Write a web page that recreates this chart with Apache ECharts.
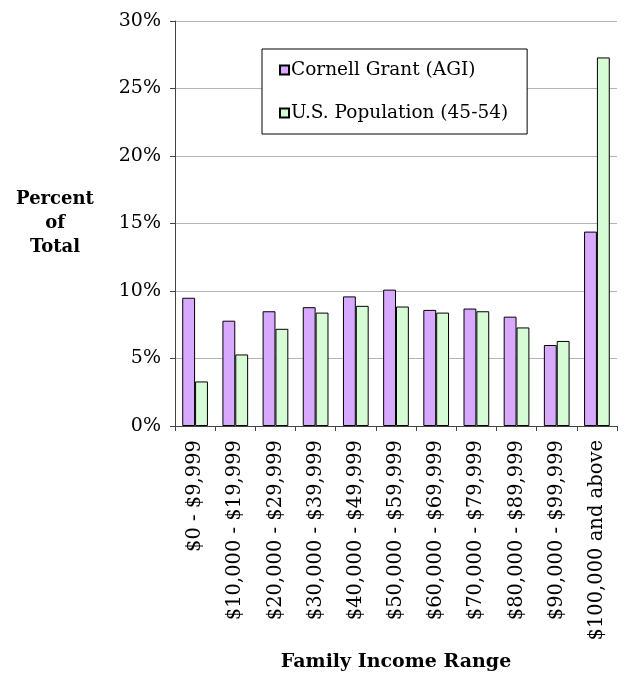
<!DOCTYPE html>
<html>
<head>
<meta charset="utf-8">
<script src="https://cdn.jsdelivr.net/npm/echarts@6/dist/echarts.min.js"></script>
<style>
  html, body { margin: 0; padding: 0; background: #fff; }
  #chart { width: 634px; height: 677px; }
</style>
</head>
<body>
<div id="chart"></div>
<script>
// Income brackets along the x axis
const categories = [
  '$0 - $9,999', '$10,000 - $19,999', '$20,000 - $29,999', '$30,000 - $39,999',
  '$40,000 - $49,999', '$50,000 - $59,999', '$60,000 - $69,999', '$70,000 - $79,999',
  '$80,000 - $89,999', '$90,000 - $99,999', '$100,000 and above'
];
// Share of total (percent) per bracket
const cornellGrant = [9.5, 7.8, 8.5, 8.8, 9.6, 10.1, 8.6, 8.7, 8.1, 6.0, 14.4];
const usPopulation = [3.3, 5.3, 7.2, 8.4, 8.9, 8.85, 8.4, 8.5, 7.3, 6.3, 27.3];
const seriesNames = ['Cornell Grant (AGI)', 'U.S. Population (45-54)'];

const serif = '"DejaVu Serif", "Liberation Serif", serif';
const axisGray = '#444';

const chart = echarts.init(document.getElementById('chart'), null, { renderer: 'canvas' });
chart.setOption({
  animation: false,
  backgroundColor: '#fff',
  textStyle: { fontFamily: serif, color: '#000' },
  grid: { left: 175, right: 17, top: 21, bottom: 250, containLabel: false },
  legend: {
    orient: 'vertical',
    left: 262,
    top: 49,
    padding: [11, 19, 11, 17],
    itemGap: 23,
    itemWidth: 9,
    itemHeight: 9,
    icon: 'rect',
    backgroundColor: '#fff',
    borderColor: '#000',
    borderWidth: 1,
    borderRadius: 0,
    textStyle: { fontFamily: serif, fontSize: 18.5, color: '#000', lineHeight: 20, padding: [0, 0, 0, -3] },
    data: seriesNames
  },
  xAxis: {
    type: 'category',
    data: categories,
    name: 'Family Income Range',
    nameLocation: 'middle',
    nameGap: 227,
    nameTextStyle: { fontFamily: serif, fontSize: 19, fontWeight: 'bold', color: '#000' },
    axisLine: { lineStyle: { color: axisGray, width: 1 } },
    axisTick: { show: true, alignWithLabel: false, length: 5, lineStyle: { color: axisGray } },
    axisLabel: {
      rotate: 90,
      margin: 14,
      interval: 0,
      fontFamily: serif,
      fontSize: 19.5,
      color: '#000'
    }
  },
  yAxis: {
    type: 'value',
    min: 0,
    max: 30,
    interval: 5,
    name: 'Percent\nof\nTotal',
    nameLocation: 'middle',
    nameRotate: 0,
    nameGap: 120,
    nameTextStyle: { fontFamily: serif, fontSize: 18, fontWeight: 'bold', color: '#000', lineHeight: 24, align: 'center' },
    axisLine: { show: true, lineStyle: { color: axisGray, width: 1 } },
    axisTick: { show: true, length: 5, lineStyle: { color: axisGray } },
    axisLabel: {
      formatter: '{value}%',
      margin: 14,
      fontFamily: serif,
      fontSize: 19,
      color: '#000'
    },
    splitLine: { show: true, lineStyle: { color: '#b4b4b4', width: 1 } }
  },
  series: [
    {
      name: seriesNames[0],
      type: 'bar',
      data: cornellGrant,
      barGap: '0%',
      barCategoryGap: '36%',
      itemStyle: { color: '#D7A9FF', borderColor: '#000', borderWidth: 1 }
    },
    {
      name: seriesNames[1],
      type: 'bar',
      data: usPopulation,
      barGap: '0%',
      barCategoryGap: '36%',
      itemStyle: { color: '#D5FCD5', borderColor: '#000', borderWidth: 1 }
    }
  ]
});
</script>
</body>
</html>
